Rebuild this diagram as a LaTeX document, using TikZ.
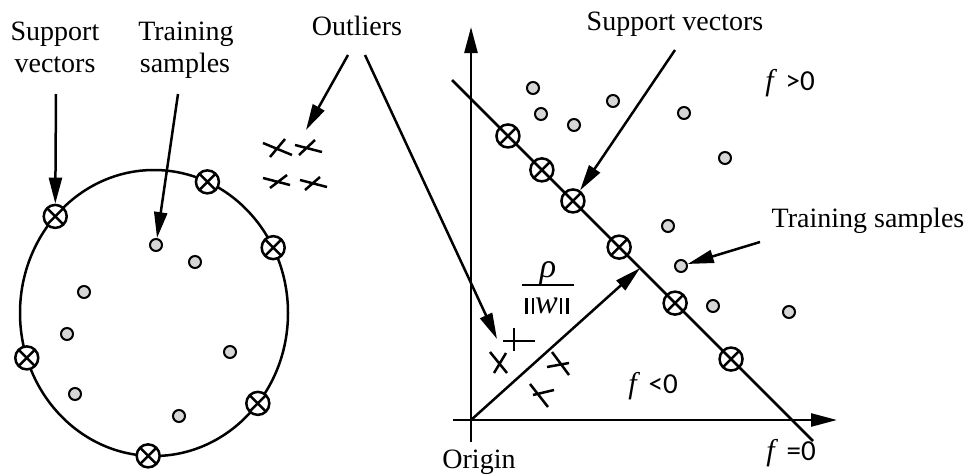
\documentclass[tikz,border=0pt]{standalone}
\usepackage{fontspec}
\setmainfont{Liberation Serif}
\newfontfamily\carlito{Carlito}
\usetikzlibrary{arrows.meta,calc}
\definecolor{dotgray}{HTML}{D6D6D6}
\newcommand{\dbar}{\rule[-1pt]{2.6pt}{16pt}\hspace{3.6pt}\rule[-1pt]{2.6pt}{16pt}}
\begin{document}
\begin{tikzpicture}[x=1pt,y=-1pt,
  line width=2.5pt,
  arr/.style={-{Triangle[length=26pt,width=13pt]}, line width=2.5pt},
  sv/.style={circle, draw, line width=2.5pt, minimum size=23pt, inner sep=0pt, fill=white,
    path picture={\draw[line width=2.5pt]
      (path picture bounding box.north west) -- (path picture bounding box.south east)
      (path picture bounding box.north east) -- (path picture bounding box.south west);}},
  dot/.style={circle, draw, line width=2pt, fill=dotgray, minimum size=12pt, inner sep=0pt},
  lab/.style={font=\fontsize{28}{32}\selectfont, inner sep=0pt, anchor=base},
  flab/.style={inner sep=0pt, anchor=base},
  xstroke/.style={line width=2.5pt}
]
\useasboundingbox (0,0) rectangle (968,474);

% ---------- left part ----------
\coordinate (E) at (154,313);
\draw[line width=2.5pt] (E) ellipse [x radius=134pt, y radius=143pt];
\node[sv] (l1) at ($(E)+(222.5:134 and 143)$) {};
\node[sv] (l2) at ($(E)+(293.5:134 and 143)$) {};
\node[sv] (l3) at ($(E)+(332.8:134 and 143)$) {};
\node[sv] (l4) at ($(E)+(161.7:134 and 143)$) {};
\node[sv] (l5) at ($(E)+(39.2:134 and 143)$) {};
\node[sv] (l6) at ($(E)+(92.5:134 and 143)$) {};

\node[dot] (d1) at (156,245) {};
\node[dot] (d2) at (195,262) {};
\node[dot] (d3) at (84,292) {};
\node[dot] (d4) at (67,334) {};
\node[dot] (d5) at (230,352) {};
\node[dot] (d6) at (75,394) {};
\node[dot] (d7) at (179,416) {};

\node[lab] (t1a) at (55,40) {Support};
\node[lab] (t1b) at (55,72) {vectors};
\node[lab] (t2a) at (186,40) {Training};
\node[lab] (t2b) at (185,72) {samples};
\node[lab] (t3) at (357,35) {Outliers};

\coordinate (a1) at (56,94);
\draw[arr] (a1) -- (l1);
\coordinate (a2) at (178,94);
\draw[arr] (a2) -- (d1);
\coordinate (a3) at (348,55);
\coordinate (a3e) at (306,130);
\draw[arr] (a3) -- (a3e);
\coordinate (a4) at (365,55);
\coordinate (a4e) at (497,339);
\draw[arr] (a4) -- (a4e);

% outlier crosses (left)
\draw[xstroke] (263,143) -- (292,155) (270,157) -- (285,139);
\draw[xstroke] (295,145) -- (322,152) (299,155) -- (315,140);
\draw[xstroke] (263,178) -- (290,185) (270,188) -- (287,175);
\draw[xstroke] (300,180) -- (327,187) (305,190) -- (320,177);

% ---------- right part ----------
\coordinate (O) at (471,420);
\coordinate (xs) at (453,420);
\coordinate (xe) at (837,420);
\coordinate (ys) at (471,442);
\coordinate (ye) at (471,27);
\draw[arr] (xs) -- (xe);
\draw[arr] (ys) -- (ye);

\coordinate (L1) at (452,80);
\coordinate (L2) at (813,441);
\draw[line width=2.5pt] (L1) -- (L2);
\coordinate (N) at ($(L1)!0.521!(L2)$);
\draw[arr] (O) -- (N);

\node[sv] (r1) at ($(L1)!0.155!(L2)$) {};
\node[sv] (r2) at ($(L1)!0.249!(L2)$) {};
\node[sv] (r3) at ($(L1)!0.335!(L2)$) {};
\node[sv] (r4) at ($(L1)!0.463!(L2)$) {};
\node[sv] (r5) at ($(L1)!0.618!(L2)$) {};
\node[sv] (r6) at ($(L1)!0.773!(L2)$) {};

\node[dot] (rd1) at (533,88) {};
\node[dot] (rd2) at (541,114) {};
\node[dot] (rd3) at (574,125) {};
\node[dot] (rd4) at (613,101) {};
\node[dot] (rd5) at (684,113) {};
\node[dot] (rd6) at (725,158) {};
\node[dot] (rd7) at (668,226) {};
\node[dot] (rd8) at (681,266) {};
\node[dot] (rd9) at (713,306) {};
\node[dot] (rd10) at (789,312) {};

% outlier crosses (right)
\draw[xstroke] (503,341) -- (535,341) (514,328) -- (514,351);
\draw[xstroke] (490,352) -- (507,373) (494,373) -- (506,353);
\draw[xstroke] (552,352) -- (569,375) (547,367) -- (569,363);
\draw[xstroke] (530,384) -- (548,407) (533,395) -- (554,390);

\node[lab] (t4) at (675,30) {Support vectors};
\node[lab] (t5) at (868,227) {Training samples};
\node[lab] (t6) at (479,468) {Origin};
\node[flab] (f1) at (790,90) {\fontsize{30}{32}\selectfont\itshape f\upshape\hspace{12pt}{\carlito\fontsize{29}{32}\selectfont >0}};
\node[flab] (f2) at (653,393) {\fontsize{30}{32}\selectfont\itshape f\upshape\hspace{12pt}{\carlito\fontsize{29}{32}\selectfont <0}};
\node[flab] (f3) at (791,460) {\fontsize{30}{32}\selectfont\itshape f\upshape\hspace{12pt}{\carlito\fontsize{29}{32}\selectfont =0}};

% fraction rho / ||w||
\node[flab] (rhon) at (548,277) {\fontsize{34}{36}\selectfont\itshape ρ};
\node[flab] (rhod) at (547,313) {\fontsize{34}{36}\selectfont\dbar\hspace{1pt}\itshape w\upshape\hspace{2pt}\dbar};
\coordinate (fb1) at (522,285);
\coordinate (fb2) at (574,285);
\draw[line width=1.8pt] (fb1) -- (fb2);

\coordinate (a5) at (675,50);
\draw[arr] (a5) -- (r3);
\coordinate (a6) at (760,242);
\draw[arr] (a6) -- (rd8);
\end{tikzpicture}
\end{document}
